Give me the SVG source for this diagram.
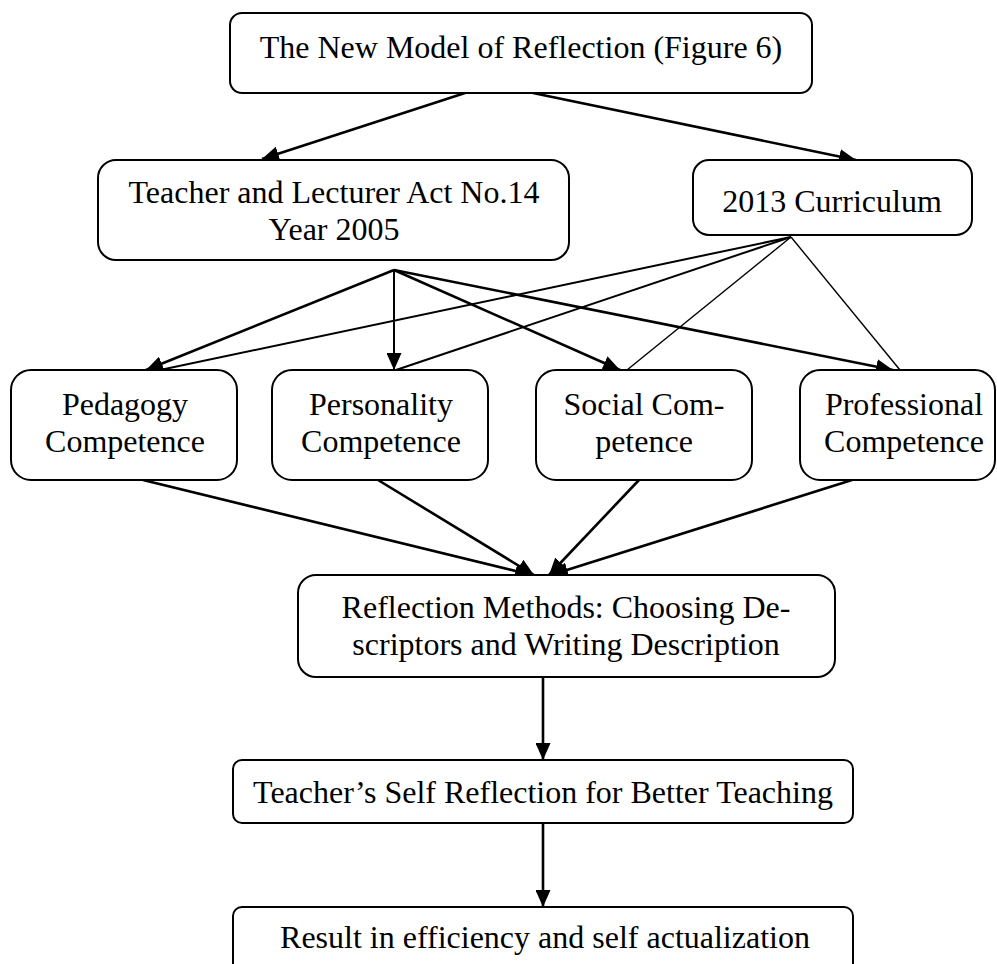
<svg xmlns="http://www.w3.org/2000/svg" width="997" height="964" viewBox="0 0 997 964">
  <style>
    .box { fill: #ffffff; stroke: #000000; stroke-width: 2; }
    .lbl { font-family: "Liberation Serif", "Times New Roman", serif; font-size: 32px; fill: #000000; text-anchor: middle; }
    .thick { stroke: #000000; stroke-width: 2.6; fill: none; }
    .mid { stroke: #000000; stroke-width: 2; fill: none; }
    .thin { stroke: #000000; stroke-width: 1.4; fill: none; }
  </style>
  <defs>
    <marker id="arrow" markerUnits="userSpaceOnUse" markerWidth="17" markerHeight="15" refX="17" refY="7.5" orient="auto">
      <path d="M0,0 L17,7.5 L0,15 z" fill="#000000"/>
    </marker>
  </defs>
  <rect width="997" height="964" fill="#ffffff"/>

  <!-- connectors -->
  <g id="connectors">
    <line class="thick" x1="465" y1="93" x2="262" y2="159" marker-end="url(#arrow)"/>
    <line class="thick" x1="533" y1="93" x2="856" y2="160" marker-end="url(#arrow)"/>

    <line class="thick" x1="394" y1="270" x2="146" y2="370" marker-end="url(#arrow)"/>
    <line class="mid" x1="394" y1="270" x2="394" y2="370" marker-end="url(#arrow)"/>
    <line class="thick" x1="394" y1="270" x2="620" y2="370" marker-end="url(#arrow)"/>
    <line class="thick" x1="394" y1="270" x2="893" y2="370" marker-end="url(#arrow)"/>

    <line class="mid" x1="791" y1="237" x2="160" y2="370"/>
    <line class="mid" x1="791" y1="237" x2="396" y2="370"/>
    <line class="thin" x1="791" y1="237" x2="627" y2="370"/>
    <line class="thin" x1="791" y1="237" x2="900" y2="370"/>

    <line class="thick" x1="143" y1="480" x2="532" y2="575" marker-end="url(#arrow)"/>
    <line class="thick" x1="378" y1="480" x2="534" y2="575" marker-end="url(#arrow)"/>
    <line class="thick" x1="639" y1="480" x2="549" y2="575" marker-end="url(#arrow)"/>
    <line class="thick" x1="852" y1="480" x2="551" y2="575" marker-end="url(#arrow)"/>

    <line class="thick" x1="543" y1="677" x2="543" y2="760" marker-end="url(#arrow)"/>
    <line class="thick" x1="543" y1="823" x2="543" y2="907" marker-end="url(#arrow)"/>
  </g>

  <!-- nodes -->
  <g id="model">
    <rect class="box" x="230" y="13" width="582" height="80" rx="12"/>
    <text class="lbl" x="521" y="58">The New Model of Reflection (Figure 6)</text>
  </g>

  <g id="act">
    <rect class="box" x="98" y="160" width="471" height="100" rx="18"/>
    <text class="lbl" x="334" y="203">Teacher and Lecturer Act No.14</text>
    <text class="lbl" x="334" y="240">Year 2005</text>
  </g>

  <g id="curriculum">
    <rect class="box" x="693" y="160" width="279" height="75" rx="16"/>
    <text class="lbl" x="832" y="212">2013 Curriculum</text>
  </g>

  <g id="pedagogy">
    <rect class="box" x="11" y="370" width="226" height="110" rx="20"/>
    <text class="lbl" x="125" y="415">Pedagogy</text>
    <text class="lbl" x="125" y="452">Competence</text>
  </g>

  <g id="personality">
    <rect class="box" x="272" y="370" width="216" height="110" rx="20"/>
    <text class="lbl" x="381" y="415">Personality</text>
    <text class="lbl" x="381" y="452">Competence</text>
  </g>

  <g id="social">
    <rect class="box" x="536" y="370" width="216" height="110" rx="20"/>
    <text class="lbl" x="644" y="415">Social Com-</text>
    <text class="lbl" x="644" y="452">petence</text>
  </g>

  <g id="professional">
    <rect class="box" x="800" y="370" width="195" height="110" rx="20"/>
    <text class="lbl" x="904" y="415">Professional</text>
    <text class="lbl" x="904" y="452">Competence</text>
  </g>

  <g id="methods">
    <rect class="box" x="298" y="575" width="537" height="102" rx="18"/>
    <text class="lbl" x="566" y="618">Reflection Methods: Choosing De-</text>
    <text class="lbl" x="566" y="655">scriptors and Writing Description</text>
  </g>

  <g id="self-reflection">
    <rect class="box" x="233" y="760" width="620" height="63" rx="9"/>
    <text class="lbl" x="543" y="803">Teacher’s Self Reflection for Better Teaching</text>
  </g>

  <g id="result">
    <rect class="box" x="233" y="907" width="620" height="70" rx="9"/>
    <text class="lbl" x="545" y="948">Result in efficiency and self actualization</text>
  </g>
</svg>
